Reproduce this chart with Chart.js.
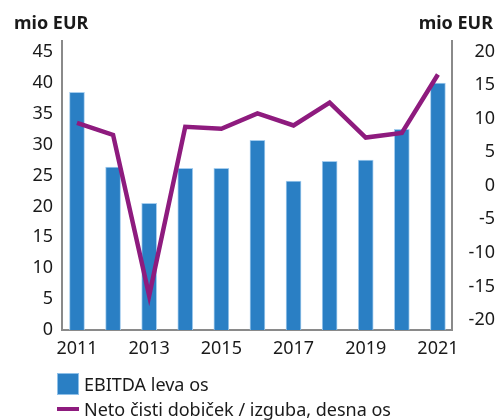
<!DOCTYPE html>
<html>
<head>
<meta charset="utf-8">
<script src="https://cdn.jsdelivr.net/npm/chart.js@4/dist/chart.umd.min.js"></script>
<style>
  html, body { margin: 0; padding: 0; background: #fff; }
  #wrap { position: relative; width: 497px; height: 420px; font-family: "Noto Sans", sans-serif; color: #1a1a1a; }
  canvas { position: absolute; left: 0; top: 0; }
  .unit { position: absolute; top: 10px; font-weight: bold; font-size: 18px; line-height: 24px; }
  .leg { position: absolute; left: 57px; font-size: 18px; line-height: 22px; display: flex; align-items: center; }
  .sw { width: 20px; height: 20px; background: #2a7fc4; border: 1px solid #8fc0e8; margin-right: 5px; }
  .ln { width: 22px; height: 4px; background: #8e1b7e; margin-right: 5px; }
</style>
</head>
<body>
<div id="wrap">
  <canvas id="c" width="497" height="420"></canvas>
  <div class="unit" style="left:14px;">mio EUR</div>
  <div class="unit" style="right:4px;">mio EUR</div>
  <div class="leg" style="top:373px;"><div class="sw"></div><span>EBITDA leva os</span></div>
  <div class="leg" style="top:398px;"><div class="ln"></div><span>Neto čisti dobiček / izguba, desna os</span></div>
</div>
<script>
const years = [2011, 2012, 2013, 2014, 2015, 2016, 2017, 2018, 2019, 2020, 2021];
const ebitda = [38.5, 26.4, 20.5, 26.2, 26.2, 30.7, 24.1, 27.3, 27.5, 32.5, 40.0];
const netProfit = [9.4, 7.6, -16.4, 8.8, 8.5, 10.8, 9.0, 12.4, 7.2, 7.9, 16.6];
const yearTicks = [2011, 2013, 2015, 2017, 2019, 2021];
const leftTicks = [0, 5, 10, 15, 20, 25, 30, 35, 40, 45];
const rightTicks = [-20, -15, -10, -5, 0, 5, 10, 15, 20];

const tickFont = { family: "Noto Sans", size: 18 };
const axisColor = '#8a8a8a';

new Chart(document.getElementById('c'), {
  data: {
    datasets: [
      {
        type: 'line',
        label: 'Neto čisti dobiček / izguba, desna os',
        data: years.map((y, i) => ({ x: y, y: netProfit[i] })),
        yAxisID: 'yR',
        borderColor: '#8e1b7e',
        borderWidth: 4.5,
        pointRadius: 0,
        tension: 0,
        order: 0
      },
      {
        type: 'bar',
        label: 'EBITDA leva os',
        data: years.map((y, i) => ({ x: y, y: ebitda[i] })),
        yAxisID: 'yL',
        backgroundColor: '#2a7fc4',
        borderColor: '#a5cdee',
        borderWidth: 1,
        barThickness: 15,
        order: 1
      }
    ]
  },
  options: {
    responsive: false,
    animation: false,
    layout: { padding: { left: 0, right: 2, top: 41, bottom: 50 } },
    plugins: { legend: { display: false }, tooltip: { enabled: false } },
    scales: {
      x: {
        type: 'linear',
        offset: false,
        min: 2010.585,
        max: 2021.39,
        grid: { display: false, drawTicks: false, offset: false },
        border: { color: axisColor, width: 2 },
        afterBuildTicks: s => { s.ticks = yearTicks.map(v => ({ value: v })); },
        ticks: { color: '#1a1a1a', font: tickFont, padding: 8, callback: v => String(v), maxRotation: 0, autoSkip: false },
        afterFit: s => { s.height = 40; }
      },
      yL: {
        type: 'linear',
        position: 'left',
        min: 0,
        max: 46.8,
        grid: { display: false, drawTicks: false },
        border: { color: axisColor, width: 2 },
        afterBuildTicks: s => { s.ticks = leftTicks.map(v => ({ value: v })); },
        ticks: { color: '#1a1a1a', font: tickFont, padding: 9, callback: v => String(v) },
        afterFit: s => { s.width = 62; }
      },
      yR: {
        type: 'linear',
        position: 'right',
        min: -21.5,
        max: 21.6,
        grid: { display: false, drawTicks: false },
        border: { color: axisColor, width: 2 },
        afterBuildTicks: s => { s.ticks = rightTicks.map(v => ({ value: v })); },
        ticks: { color: '#1a1a1a', font: tickFont, padding: 4, crossAlign: 'far', callback: v => String(v) },
        afterFit: s => { s.width = 43; }
      }
    }
  }
});
</script>
</body>
</html>
